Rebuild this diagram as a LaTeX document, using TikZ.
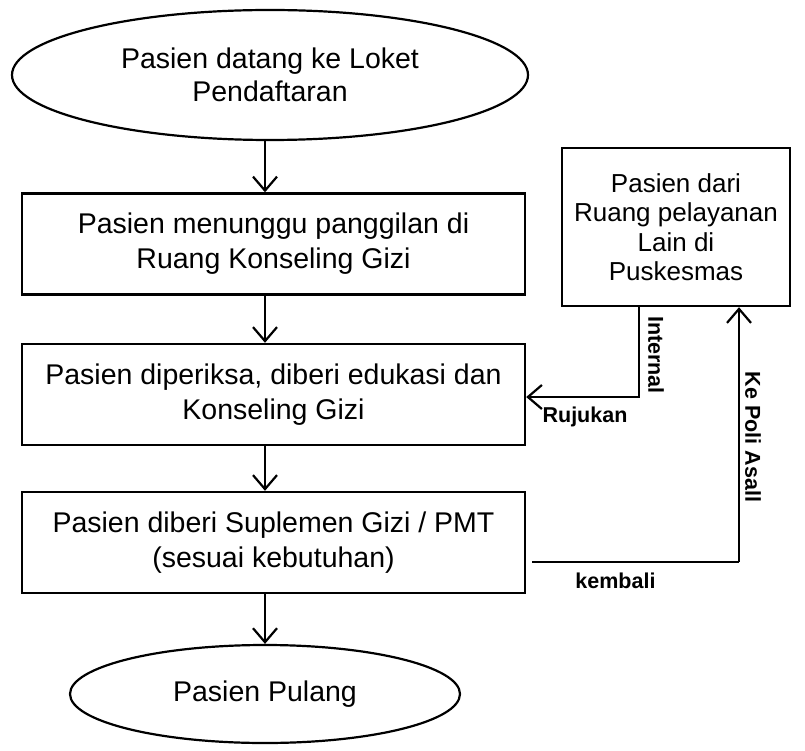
\documentclass[tikz,border=0pt]{standalone}
\usepackage{fontspec}
\setmainfont{Liberation Sans}
\usetikzlibrary{shapes.geometric, arrows.meta}
\begin{document}
\begin{tikzpicture}[x=1pt,y=-1pt,
  box/.style={draw, line width=2.4pt, minimum width=503pt, minimum height=101pt, align=center, inner sep=0pt, font=\fontsize{28.5}{35}\selectfont},
  oval/.style={draw, ellipse, line width=2.2pt, inner sep=0pt, align=center, font=\fontsize{28.5}{33}\selectfont},
  sidebox/.style={draw, line width=2.4pt, minimum width=228pt, minimum height=158pt, align=center, inner sep=0pt, font=\fontsize{26}{29.5}\selectfont},
  arr/.style={line width=2.2pt, -{Straight Barb[length=14pt,width=24pt,line width=2.2pt]}},
  conn/.style={line width=2.2pt},
  lbl/.style={font=\bfseries\fontsize{21.5}{24}\selectfont, inner sep=0pt}
]
\useasboundingbox (0,0) rectangle (805,751);
\fill[white] (0,0) rectangle (805,751);

\node[oval, minimum width=516pt, minimum height=130pt] (start) at (270,75) {Pasien datang ke Loket\\Pendaftaran};
\node[box] (b1) at (273.5,244) {Pasien menunggu panggilan di\\Ruang Konseling Gizi};
\node[box] (b2) at (273.5,394.5) {Pasien diperiksa, diberi edukasi dan\\Konseling Gizi};
\node[box] (b3) at (273.5,542.5) {Pasien diberi Suplemen Gizi / PMT\\(sesuai kebutuhan)};
\node[oval, minimum width=390pt, minimum height=98pt] (end) at (265,694) {Pasien Pulang};
\node[sidebox] (rb) at (676,227) {Pasien dari\\Ruang pelayanan\\Lain di\\Puskesmas};

\coordinate (ax) at (265,0);
\coordinate (ci) at (639,397);
\coordinate (k) at (739,562);

\draw[arr] (start.south -| ax) -- (b1.north -| ax);
\draw[arr] (b1.south -| ax) -- (b2.north -| ax);
\draw[arr] (b2.south -| ax) -- (b3.north -| ax);
\draw[arr] (b3.south -| ax) -- (end.north -| ax);

\draw[arr] (rb.south -| ci) -- (ci) -- (b2.east |- ci);
\draw[conn, shorten <=6pt] (b3.east |- k) -- (k);
\draw[arr] (k) -- (rb.south -| k);

\node[lbl, rotate=-90] (lint) at (656,355) {Internal};
\node[lbl] (lruj) at (585,417) {Rujukan};
\node[lbl, rotate=-90] (lpoli) at (753,437) {Ke Poli Asall};
\node[lbl] (lkem) at (615.5,581) {kembali};
\end{tikzpicture}
\end{document}
